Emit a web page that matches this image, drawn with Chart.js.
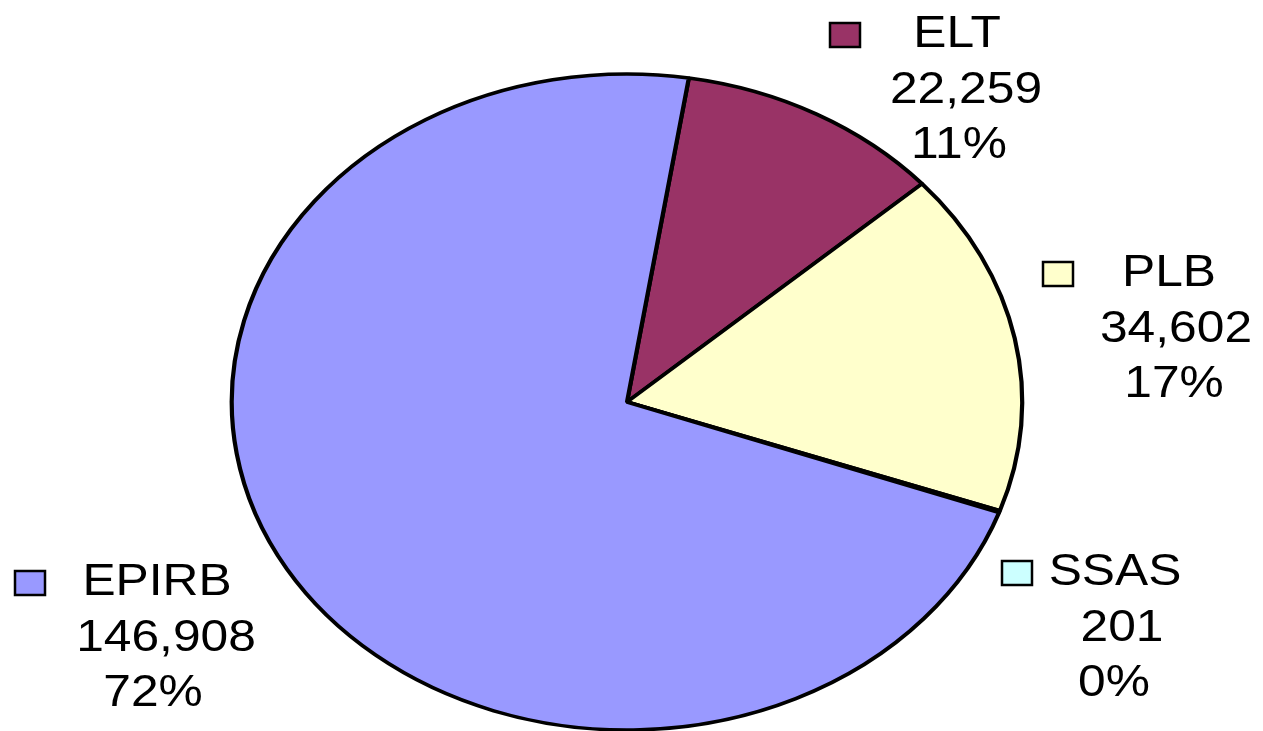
<!DOCTYPE html>
<html><head><meta charset="utf-8">
<script src="https://cdn.jsdelivr.net/npm/chart.js@4/dist/chart.umd.min.js"></script>
<style>html,body{margin:0;padding:0;background:#fff;overflow:hidden}#wrap{width:1263px;height:731px;position:relative}</style>
</head><body><div id="wrap"><canvas id="c" width="1263" height="731"></canvas></div>
<script>
// ---- data ----
const categories = ['ELT', 'PLB', 'SSAS', 'EPIRB'];
const values = [22259, 34602, 201, 146908];
const sliceColors = ['#993366', '#FFFFCC', '#CCFFFF', '#9999FF'];

// ---- derived label text ----
const total = values.reduce((a, b) => a + b, 0);
const valueLabels = values.map(v => v.toLocaleString('en-US'));
const percentLabels = values.map(v => Math.round(v / total * 100) + '%');

// ---- layout (label placement, not data) ----
const SX = 1.205;           // horizontal stretch of the pie
const TSX = 1.13;           // horizontal stretch of text
const FONT = '44px "Liberation Sans", Arial, sans-serif';
const LINE = 56;
const labelLayout = [
  { cx: [957, 966, 959],    y: 47,  mx: 830 },
  { cx: [1169, 1176, 1174], y: 286, mx: 1043 },
  { cx: [1115, 1122, 1114], y: 585, mx: 1002 },
  { cx: [157, 166, 153],    y: 595, mx: 15 }
];

const stretchPlugin = {
  id: 'stretch',
  beforeDatasetsDraw(chart) {
    const arc = chart.getDatasetMeta(0).data[0];
    const ctx = chart.ctx;
    ctx.save();
    ctx.translate(arc.x, arc.y);
    ctx.scale(SX, 1);
    ctx.translate(-arc.x, -arc.y);
  },
  afterDatasetsDraw(chart) { chart.ctx.restore(); }
};

const labelPlugin = {
  id: 'labels',
  afterDraw(chart) {
    const ctx = chart.ctx;
    categories.forEach((name, i) => {
      const L = labelLayout[i];
      ctx.save();
      ctx.fillStyle = sliceColors[i];
      ctx.strokeStyle = '#000';
      ctx.lineWidth = 2.5;
      ctx.fillRect(L.mx, L.y - 24, 30, 24);
      ctx.strokeRect(L.mx, L.y - 24, 30, 24);
      ctx.restore();
      const lines = [name, valueLabels[i], percentLabels[i]];
      lines.forEach((t, k) => {
        ctx.save();
        ctx.translate(L.cx[k], L.y + k * LINE - (k === 2 ? 1 : 0));
        ctx.scale(TSX, 1);
        ctx.font = FONT;
        ctx.fillStyle = '#000';
        ctx.textAlign = 'center';
        ctx.textBaseline = 'alphabetic';
        ctx.fillText(t, 0, 0);
        ctx.restore();
      });
    });
  }
};

new Chart(document.getElementById('c'), {
  type: 'pie',
  data: {
    labels: categories,
    datasets: [{
      data: values,
      backgroundColor: sliceColors,
      borderColor: '#000',
      borderWidth: 3.5,
      hoverOffset: 0
    }]
  },
  options: {
    responsive: false,
    animation: false,
    rotation: 9,
    radius: 328,
    layout: { padding: { left: 0, right: 9, top: 73, bottom: 0 } },
    plugins: { legend: { display: false }, tooltip: { enabled: false } },
    events: []
  },
  plugins: [stretchPlugin, labelPlugin]
});
</script>
</body></html>
